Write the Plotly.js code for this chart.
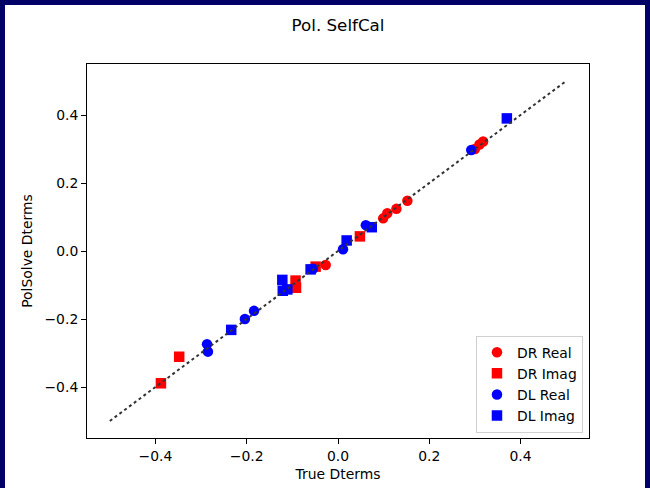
<!DOCTYPE html>
<html>
<head>
<meta charset="utf-8">
<script src="https://cdn.plot.ly/plotly-3.0.1.min.js"></script>
<style>
  html, body { margin: 0; padding: 0; background: #000066; width: 650px; height: 488px; overflow: hidden; }
  #chart { position: absolute; left: 5px; top: 5px; width: 640px; height: 483px; background: #fff; }
</style>
</head>
<body>
<div id="chart"></div>
<script>
// Data
const drRealX = [-0.027, 0.099, 0.108, 0.128, 0.152, 0.300, 0.310, 0.318];
const drRealY = [-0.041, 0.096, 0.111, 0.124, 0.148, 0.300, 0.313, 0.322];

const drImagX = [-0.388, -0.348, -0.093, -0.092, -0.049, 0.048];
const drImagY = [-0.389, -0.311, -0.087, -0.108, -0.046, 0.043];

const dlRealX = [-0.287, -0.285, -0.204, -0.184, -0.055, 0.011, 0.061, 0.292];
const dlRealY = [-0.274, -0.296, -0.200, -0.176, -0.052, 0.005, 0.076, 0.297];

const dlImagX = [-0.234, -0.122, -0.121, -0.111, -0.060, 0.019, 0.074, 0.370];
const dlImagY = [-0.232, -0.085, -0.117, -0.113, -0.054, 0.031, 0.070, 0.390];

const lineX = [-0.5, 0.5];
const lineY = [-0.5, 0.5];

const seriesNames = ['DR Real', 'DR Imag', 'DL Real', 'DL Imag'];
const xTicks = [-0.4, -0.2, 0.0, 0.2, 0.4];
const yTicks = [-0.4, -0.2, 0.0, 0.2, 0.4];

const font = 'DejaVu Sans, Verdana, sans-serif';

function pts(x, y, name, color, symbol) {
  return {
    x: x, y: y, name: name, type: 'scatter', mode: 'markers',
    marker: { color: color, symbol: symbol, size: 10.5, line: { width: 0 } }
  };
}

const traces = [
  pts(drRealX, drRealY, seriesNames[0], '#ff0000', 'circle'),
  pts(drImagX, drImagY, seriesNames[1], '#ff0000', 'square'),
  pts(dlRealX, dlRealY, seriesNames[2], '#0000ff', 'circle'),
  pts(dlImagX, dlImagY, seriesNames[3], '#0000ff', 'square'),
  {
    x: lineX, y: lineY, type: 'scatter', mode: 'lines', showlegend: false,
    line: { color: '#333333', width: 2, dash: 'dot' }, hoverinfo: 'skip'
  }
];

const axisCommon = {
  showgrid: false, zeroline: false, showline: true, mirror: true,
  linecolor: '#000', linewidth: 1, ticks: 'outside', ticklen: 5, tickwidth: 1,
  tickcolor: '#000', tickfont: { family: font, size: 13.9, color: '#000' },
  tickformat: '.1f'
};

const layout = {
  width: 640, height: 483,
  paper_bgcolor: '#fff', plot_bgcolor: '#fff',
  margin: { l: 82, r: 56, t: 59, b: 50 },
  font: { family: font, color: '#000' },
  title: {
    text: 'Pol. SelfCal', font: { family: font, size: 16.7, color: '#000' },
    x: 0.5, xref: 'paper', y: 1 - 20 / 483, yref: 'container', yanchor: 'middle'
  },
  xaxis: Object.assign({}, axisCommon, {
    range: [-0.55, 0.55], tickvals: xTicks,
    title: { text: 'True Dterms', font: { family: font, size: 13.9, color: '#000' }, standoff: 6 }
  }),
  yaxis: Object.assign({}, axisCommon, {
    range: [-0.55, 0.55], tickvals: yTicks,
    title: { text: 'PolSolve Dterms', font: { family: font, size: 13.9, color: '#000' }, standoff: 8 }
  }),
  showlegend: true,
  legend: {
    x: 0.988, xanchor: 'right', y: 0.014, yanchor: 'bottom',
    bgcolor: '#fff', bordercolor: '#d0d0d0', borderwidth: 1,
    font: { family: font, size: 13.9, color: '#000' }
  }
};

Plotly.newPlot('chart', traces, layout, { displayModeBar: false, staticPlot: true });
</script>
</body>
</html>
